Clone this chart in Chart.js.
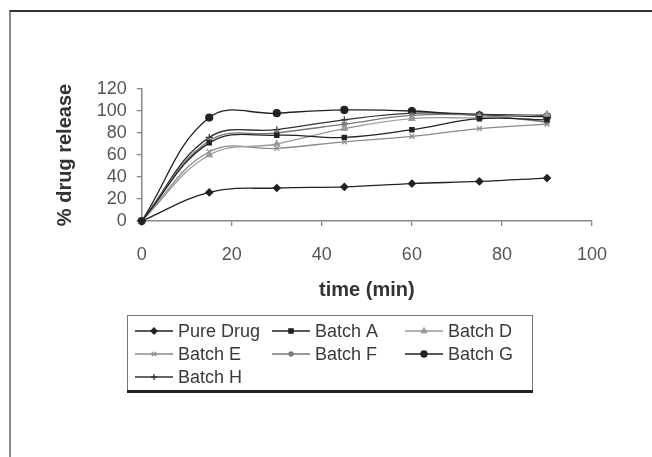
<!DOCTYPE html>
<html>
<head>
<meta charset="utf-8">
<script src="https://cdn.jsdelivr.net/npm/chart.js@4.4.1/dist/chart.umd.min.js"></script>
<style>
  html, body { margin: 0; padding: 0; background: #fff; }
  #frame { position: absolute; left: 9px; top: 10px; width: 643px; height: 447px;
           border-top: 2px solid #333; border-left: 2px solid #8a8a8a; box-sizing: border-box; }
  #c { position: absolute; left: 0; top: 0; }
</style>
</head>
<body>
<div id="frame"></div>
<canvas id="c" width="652" height="457"></canvas>
<script>
// ---- data ----
const times = [0, 15, 30, 45, 60, 75, 90];
const seriesNames = ['Pure Drug', 'Batch A', 'Batch D', 'Batch E', 'Batch F', 'Batch G', 'Batch H'];
const pureDrug = [0, 26, 30, 31, 34, 36, 39];
const batchA   = [0, 71, 78, 76, 83, 93, 92];
const batchD   = [0, 60, 70, 84, 93, 94, 97];
const batchE   = [0, 63, 66, 72, 77, 84, 88];
const batchF   = [0, 73, 80, 88, 96, 96, 90];
const batchG   = [0, 94, 98, 101, 100, 96, 95];
const batchH   = [0, 76, 83, 92, 98, 97, 96];
const xTitle = 'time (min)';
const yTitle = '% drug release';

const seriesValues = [pureDrug, batchA, batchD, batchE, batchF, batchG, batchH];
const styles = [
  { color: '#222', pointStyle: 'rectRot', radius: 3.5 },
  { color: '#222', pointStyle: 'rect', radius: 3 },
  { color: '#9a9a9a', pointStyle: 'triangle', radius: 3.5 },
  { color: '#8a8a8a', pointStyle: 'crossRot', radius: 3.5 },
  { color: '#777', pointStyle: 'star', radius: 3.5 },
  { color: '#222', pointStyle: 'circle', radius: 3.5 },
  { color: '#333', pointStyle: 'cross', radius: 3.5 }
];

Chart.defaults.font.family = '"Liberation Sans", Arial, sans-serif';

const datasets = seriesValues.map((vals, i) => ({
  label: seriesNames[i],
  data: vals.map((v, j) => ({ x: times[j], y: v })),
  borderColor: styles[i].color,
  backgroundColor: styles[i].color,
  pointBackgroundColor: styles[i].color,
  pointBorderColor: styles[i].color,
  pointStyle: styles[i].pointStyle,
  pointRadius: styles[i].radius,
  pointBorderWidth: 1.2,
  borderWidth: 1.3,
  tension: 0.4,
  fill: false,
  clip: false
}));

const legendBox = {
  id: 'legendBox',
  afterDraw(chart) {
    const ctx = chart.ctx;
    const L = 127, T = 315, R = 533, B = 391;
    ctx.save();
    ctx.fillStyle = '#fff';
    ctx.fillRect(L, T, R - L, B - T);
    ctx.strokeStyle = '#777';
    ctx.lineWidth = 1;
    ctx.strokeRect(L + 0.5, T + 0.5, R - L - 1, B - T - 1);
    ctx.fillStyle = '#222';
    ctx.fillRect(L, B - 1, R - L, 3);
    const cols = [135, 272, 405];
    const rows = [331, 354, 377];
    ctx.font = '18px "Liberation Sans", Arial, sans-serif';
    ctx.textBaseline = 'middle';
    chart.data.datasets.forEach((ds, i) => {
      const cx = cols[i % 3], cy = rows[Math.floor(i / 3)];
      ctx.strokeStyle = ds.borderColor;
      ctx.lineWidth = 1.3;
      ctx.beginPath();
      ctx.moveTo(cx, cy); ctx.lineTo(cx + 38, cy);
      ctx.stroke();
      ctx.fillStyle = ds.borderColor;
      ctx.strokeStyle = ds.borderColor;
      Chart.helpers.drawPoint(ctx, { pointStyle: ds.pointStyle, radius: 3, rotation: 0, borderWidth: 1.1 }, cx + 19, cy);
      ctx.fillStyle = '#3a3a3a';
      ctx.textAlign = 'left';
      ctx.fillText(ds.label, cx + 43, cy + 1);
    });
    ctx.restore();
  }
};

new Chart(document.getElementById('c'), {
  type: 'line',
  data: { datasets },
  plugins: [legendBox],
  options: {
    responsive: false,
    animation: false,
    layout: { padding: { left: 45, top: 89, right: 60, bottom: 151 } },
    plugins: { legend: { display: false }, tooltip: { enabled: false } },
    scales: {
      x: {
        type: 'linear', min: 0, max: 100,
        ticks: { stepSize: 20, autoSkip: false, color: '#555', font: { size: 18 }, padding: 18, maxRotation: 0 },
        grid: { drawOnChartArea: false, drawTicks: true, tickLength: 5, color: '#888', lineWidth: 1.3 },
        border: { color: '#888', width: 1.5 },
        title: { display: true, text: xTitle, color: '#333', font: { size: 20, weight: 'bold' }, padding: { top: 0, bottom: 4 } },
        afterFit(scale) { scale.height = 85; }
      },
      y: {
        min: 0, max: 120,
        ticks: { stepSize: 20, autoSkip: false, color: '#555', font: { size: 18 }, padding: 10 },
        grid: { drawOnChartArea: false, drawTicks: true, tickLength: 5, color: '#888', lineWidth: 1.3 },
        border: { color: '#888', width: 1.5 },
        title: { display: true, text: yTitle, color: '#333', font: { size: 20, weight: 'bold' }, padding: { top: 8, bottom: 0 } },
        afterFit(scale) { scale.width = 96.7; }
      }
    }
  }
});
</script>
</body>
</html>
